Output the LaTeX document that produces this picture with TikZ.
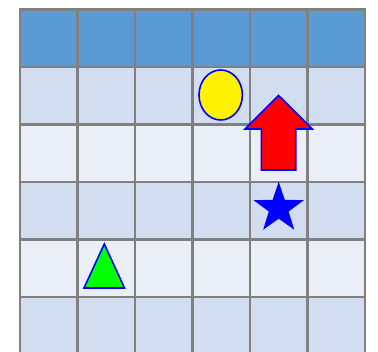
\documentclass[tikz,border=0pt]{standalone}
\usepackage{tikz}
\usetikzlibrary{calc}
\definecolor{hdrblue}{rgb}{0.35686,0.60784,0.83529}
\definecolor{rowdark}{rgb}{0.82353,0.87059,0.93725}
\definecolor{rowlight}{rgb}{0.91765,0.93725,0.96863}
\definecolor{gridgray}{rgb}{0.50196,0.50196,0.50196}
\begin{document}
\begin{tikzpicture}[line join=round,x=0.75pt,y=-0.75pt]
    \useasboundingbox (0,0) rectangle (378,352);
    \clip (0,0) rectangle (378,352);
    \tikzset{gridline/.style={color=gridgray,line width=1.9pt,line cap=rect},
      shapeline/.style={draw=blue,line width=1.2pt}}
    % rows
    \fill [hdrblue] (20,9.5) rectangle (365,67);
    \fill [rowdark] (20,67) rectangle (365,124.5);
    \fill [rowlight] (20,124.5) rectangle (365,182);
    \fill [rowdark] (20,182) rectangle (365,239.5);
    \fill [rowlight] (20,239.5) rectangle (365,297);
    \fill [rowdark] (20,297) rectangle (365,360);
    % grid
    \foreach \i in {0,...,6}
      \draw [gridline] ({20+57.5*\i},9.5) -- ({20+57.5*\i},365);
    \foreach \j in {0,...,6}
      \draw [gridline] (20,{9.5+57.5*\j}) -- (365,{9.5+57.5*\j});
    % shapes
    \coordinate (sun) at (220.7,95);
    \coordinate (starc) at (278.7,208.3);
    \filldraw [fill=yellow,shapeline] (sun) ellipse (21.7 and 25);
    \filldraw [fill=red,shapeline,line join=miter] (278.6,95.5) -- (312.3,129) -- (295.8,129) -- (295.8,170)
      -- (261.4,170) -- (261.4,129) -- (245,129) -- cycle;
    \fill [blue] ($(starc)+(-90:26.5)$) \foreach \k in {1,...,9} {
      -- ($(starc)+({-90+36*\k}:{mod(\k,2)==1 ? 10.4 : 26.5})$) } -- cycle;
    \filldraw [fill=green,shapeline,line join=miter] (104.3,244) -- (124.5,288) -- (84,288) -- cycle;
\end{tikzpicture}
\end{document}
